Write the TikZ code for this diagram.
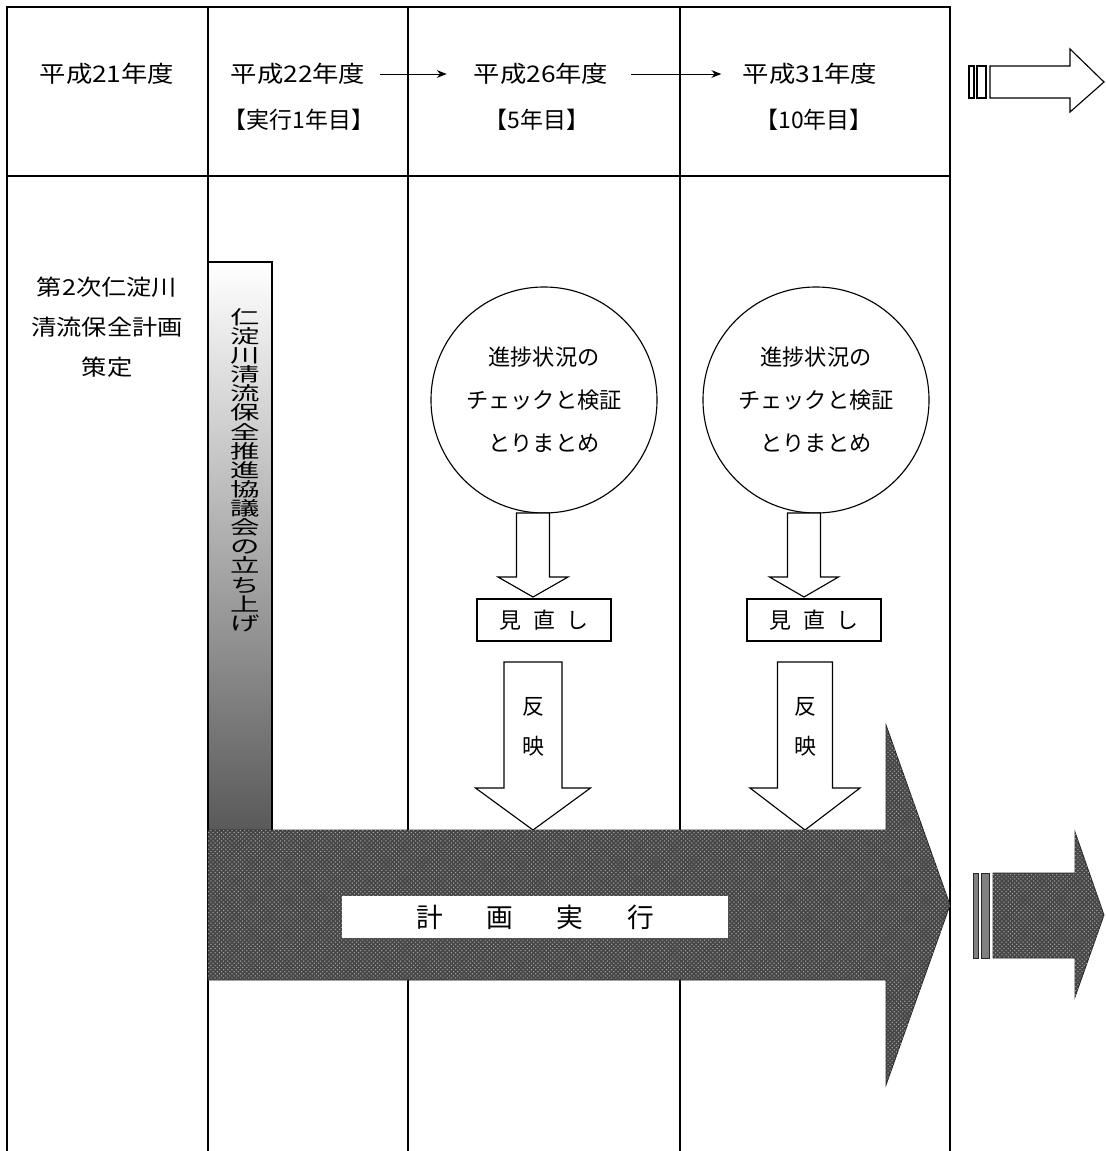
\documentclass[tikz,border=0pt]{standalone}
\usepackage{fontspec}
\setmainfont{Noto Sans CJK JP}
\newfontfamily\widejp[FakeStretch=1.15]{Noto Sans CJK JP}
\newfontfamily\barjp[FakeStretch=1.55]{Noto Sans CJK JP}
\usetikzlibrary{positioning}
\usetikzlibrary{calc}
\usetikzlibrary{arrows.meta}
\usetikzlibrary{patterns}

% block arrow pointing down: x, top, head start, tip, half shaft, half head
\newcommand{\downblock}[6]{%
  \draw[blockarrow] (#1-#5,#2) -- (#1+#5,#2) -- (#1+#5,#3) -- (#1+#6,#3)
    -- (#1,#4) -- (#1-#6,#3) -- (#1-#5,#3) -- cycle;}

\begin{document}
\begin{tikzpicture}[x=0.025cm,y=-0.025cm,
    tabline/.style={line width=0.8pt},
    hdr/.style={font=\widejp\fontsize{16.3}{20}\selectfont, inner sep=2pt},
    sub/.style={font=\fontsize{16.3}{20}\selectfont, inner sep=2pt},
    yarrow/.style={-{Stealth[length=7pt,width=5.5pt]}, line width=0.7pt},
    chkcircle/.style={draw, circle, fill=white, minimum size=5.65cm, inner sep=0,
      align=center, line width=0.8pt, font=\fontsize{15.8}{30.6}\selectfont},
    revbox/.style={draw, fill=white, minimum width=3.35cm, minimum height=1.05cm,
      line width=0.8pt, font=\fontsize{15.6}{20}\selectfont},
    blockarrow/.style={draw, fill=white, line width=0.8pt},
    darkarrow/.style={draw=black!85, fill=black!72, line width=0.6pt,
      postaction={pattern=crosshatch dots, pattern color=black!35}},
    bars/.style={draw=black!85, fill=black!50, line width=0.5pt}]
    \useasboundingbox (0,0) rectangle (1105,1151);

    % table
    \draw[tabline] (7,1151) -- (7,7) -- (950,7) -- (950,1151);
    \draw[tabline] (7,176) -- (950,176);
    \foreach \x in {208,408,680}
        \draw[tabline] (\x,7) -- (\x,1151);

    % header
    \node[hdr] (y21) at (107,74) {平成21年度};
    \node[hdr] (y22) at (298,74) {平成22年度};
    \node[hdr] (y26) at (541,74) {平成26年度};
    \node[hdr] (y31) at (810,74) {平成31年度};
    \node[sub] (p22) at (299,120) {【実行1年目】};
    \node[sub] (p26) at (537,120) {【5年目】};
    \node[sub] (p31) at (814,120) {【10年目】};
    \draw[yarrow, shorten <=8pt, shorten >=17pt] (y22) -- (y26);
    \draw[yarrow, shorten <=14pt, shorten >=13pt] (y26) -- (y31);

    % top right arrow
    \draw[tabline, fill=white] (969,66) rectangle (974,98);
    \draw[tabline, fill=white] (977,66) rectangle (986,98);
    \draw[tabline, fill=white] (990,66) -- (1070,66) -- (1070,49) -- (1104,82)
        -- (1070,112) -- (1070,98) -- (990,98) -- cycle;

    % first year
    \node[align=center, font=\widejp\fontsize{15.6}{28.5}\selectfont] (plan) at (107,327)
        {第2次仁淀川\\清流保全計画\\策定};

    % council bar
    \shade[top color=white, middle color=black!12, bottom color=black!65] (208,262) rectangle (272,830);
    \draw[tabline] (208,830) -- (208,262) -- (272,262) -- (272,830);
    \node[align=center, inner sep=0, font=\barjp\fontsize{13.5}{13.6}\selectfont] (council) at (245,470)
        {仁\\淀\\川\\清\\流\\保\\全\\推\\進\\協\\議\\会\\の\\立\\ち\\上\\げ};

    % check and review
    \node[chkcircle] (chk1) at (544,400) {進捗状況の\\チェックと検証\\とりまとめ};
    \node[chkcircle] (chk2) at (816,400) {進捗状況の\\チェックと検証\\とりまとめ};
    \downblock{533}{513}{577}{597}{16.5}{35}
    \downblock{804}{513}{577}{597}{16.5}{34.5}
    \node[revbox] (rev1) at (544,620) {見\hspace{8.5pt}直\hspace{8.5pt}し};
    \node[revbox] (rev2) at (814,620) {見\hspace{8.5pt}直\hspace{8.5pt}し};
    \downblock{533}{662}{788}{830}{29}{57.5}
    \downblock{805}{662}{788}{830}{27.5}{55}
    \node[align=center, font=\fontsize{15.6}{28.5}\selectfont] (ref1) at (533,727) {反\\映};
    \node[align=center, font=\fontsize{15.6}{28.5}\selectfont] (ref2) at (805,727) {反\\映};

    % plan execution
    \draw[darkarrow] (208,830) -- (886,830) -- (886,725) -- (950,905) -- (886,1085)
        -- (886,980) -- (208,980) -- cycle;
    \node[fill=white, minimum width=9.625cm, minimum height=1.05cm,
        font=\fontsize{19}{20}\selectfont] (exec) at (535,917)
        {計\hspace{31pt}画\hspace{31pt}実\hspace{31pt}行};

    % bottom right arrow
    \draw[bars] (973,873) rectangle (978,958);
    \draw[bars] (981,873) rectangle (989,958);
    \draw[darkarrow] (993,873) -- (1075,873) -- (1075,832) -- (1104,915)
        -- (1075,997) -- (1075,958) -- (993,958) -- cycle;
\end{tikzpicture}
\end{document}
